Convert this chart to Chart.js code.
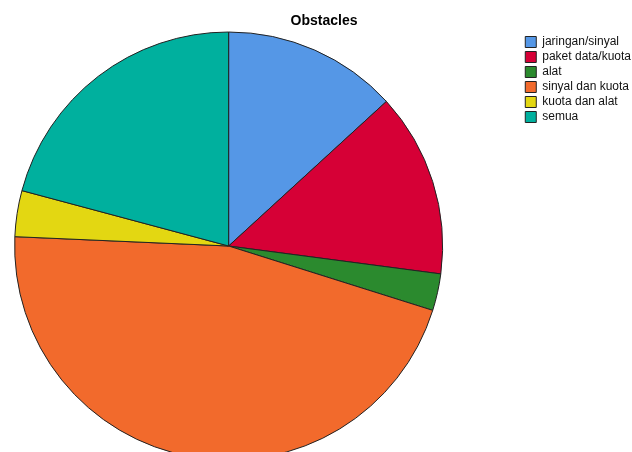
<!DOCTYPE html>
<html>
<head>
<meta charset="utf-8">
<script src="https://cdn.jsdelivr.net/npm/chart.js@4/dist/chart.umd.min.js"></script>
<style>
  html, body { margin: 0; padding: 0; background: #fff; overflow: hidden; }
  #wrap { position: relative; width: 632px; height: 480px; }
</style>
</head>
<body>
<div id="wrap"><canvas id="myChart" width="632" height="480"></canvas></div>
<script>
const categories = [
  'jaringan/sinyal',
  'paket data/kuota',
  'alat',
  'sinyal dan kuota',
  'kuota dan alat',
  'semua'
];
const counts = [19, 20, 4, 66, 5, 30];
const colors = ['#5597e6', '#d60036', '#2b8a2e', '#f26a2c', '#e3d712', '#00b09e'];

// right padding keeps the pie on the left; legend and title are moved back afterwards
const PAD_RIGHT = 56;
const placeBlocks = {
  id: 'placeBlocks',
  afterLayout(chart) {
    const t = chart.titleBlock;
    t.left = 16;
    t.right = chart.width;
    t.width = t.right - t.left;
    t.top += 2; t.bottom += 2;

    const lg = chart.legend;
    const dx = 65, dy = 33;
    lg.left += dx; lg.right += dx;
    lg.top += dy; lg.bottom += dy;
  }
};

const configChart = {
  type: 'pie',
  data: {
    labels: categories,
    datasets: [{
      data: counts,
      backgroundColor: colors,
      borderColor: '#222',
      borderWidth: 1
    }]
  },
  options: {
    responsive: false,
    animation: false,
    layout: { padding: { left: 0, right: PAD_RIGHT, top: 0, bottom: 19.5 } },
    plugins: {
      title: {
        display: true,
        text: 'Obstacles',
        color: '#000',
        font: { family: 'Arial, "Liberation Sans"', size: 14, weight: 'bold' },
        padding: { top: 11, bottom: 3.7 }
      },
      legend: {
        position: 'right',
        align: 'start',
        labels: {
          boxWidth: 11,
          boxHeight: 11,
          padding: 3,
          color: '#111',
          font: { family: 'Arial, "Liberation Sans"', size: 12 }
        }
      },
      tooltip: { enabled: false }
    }
  },
  plugins: [placeBlocks]
};
new Chart(document.getElementById('myChart'), configChart);
</script>
</body>
</html>
